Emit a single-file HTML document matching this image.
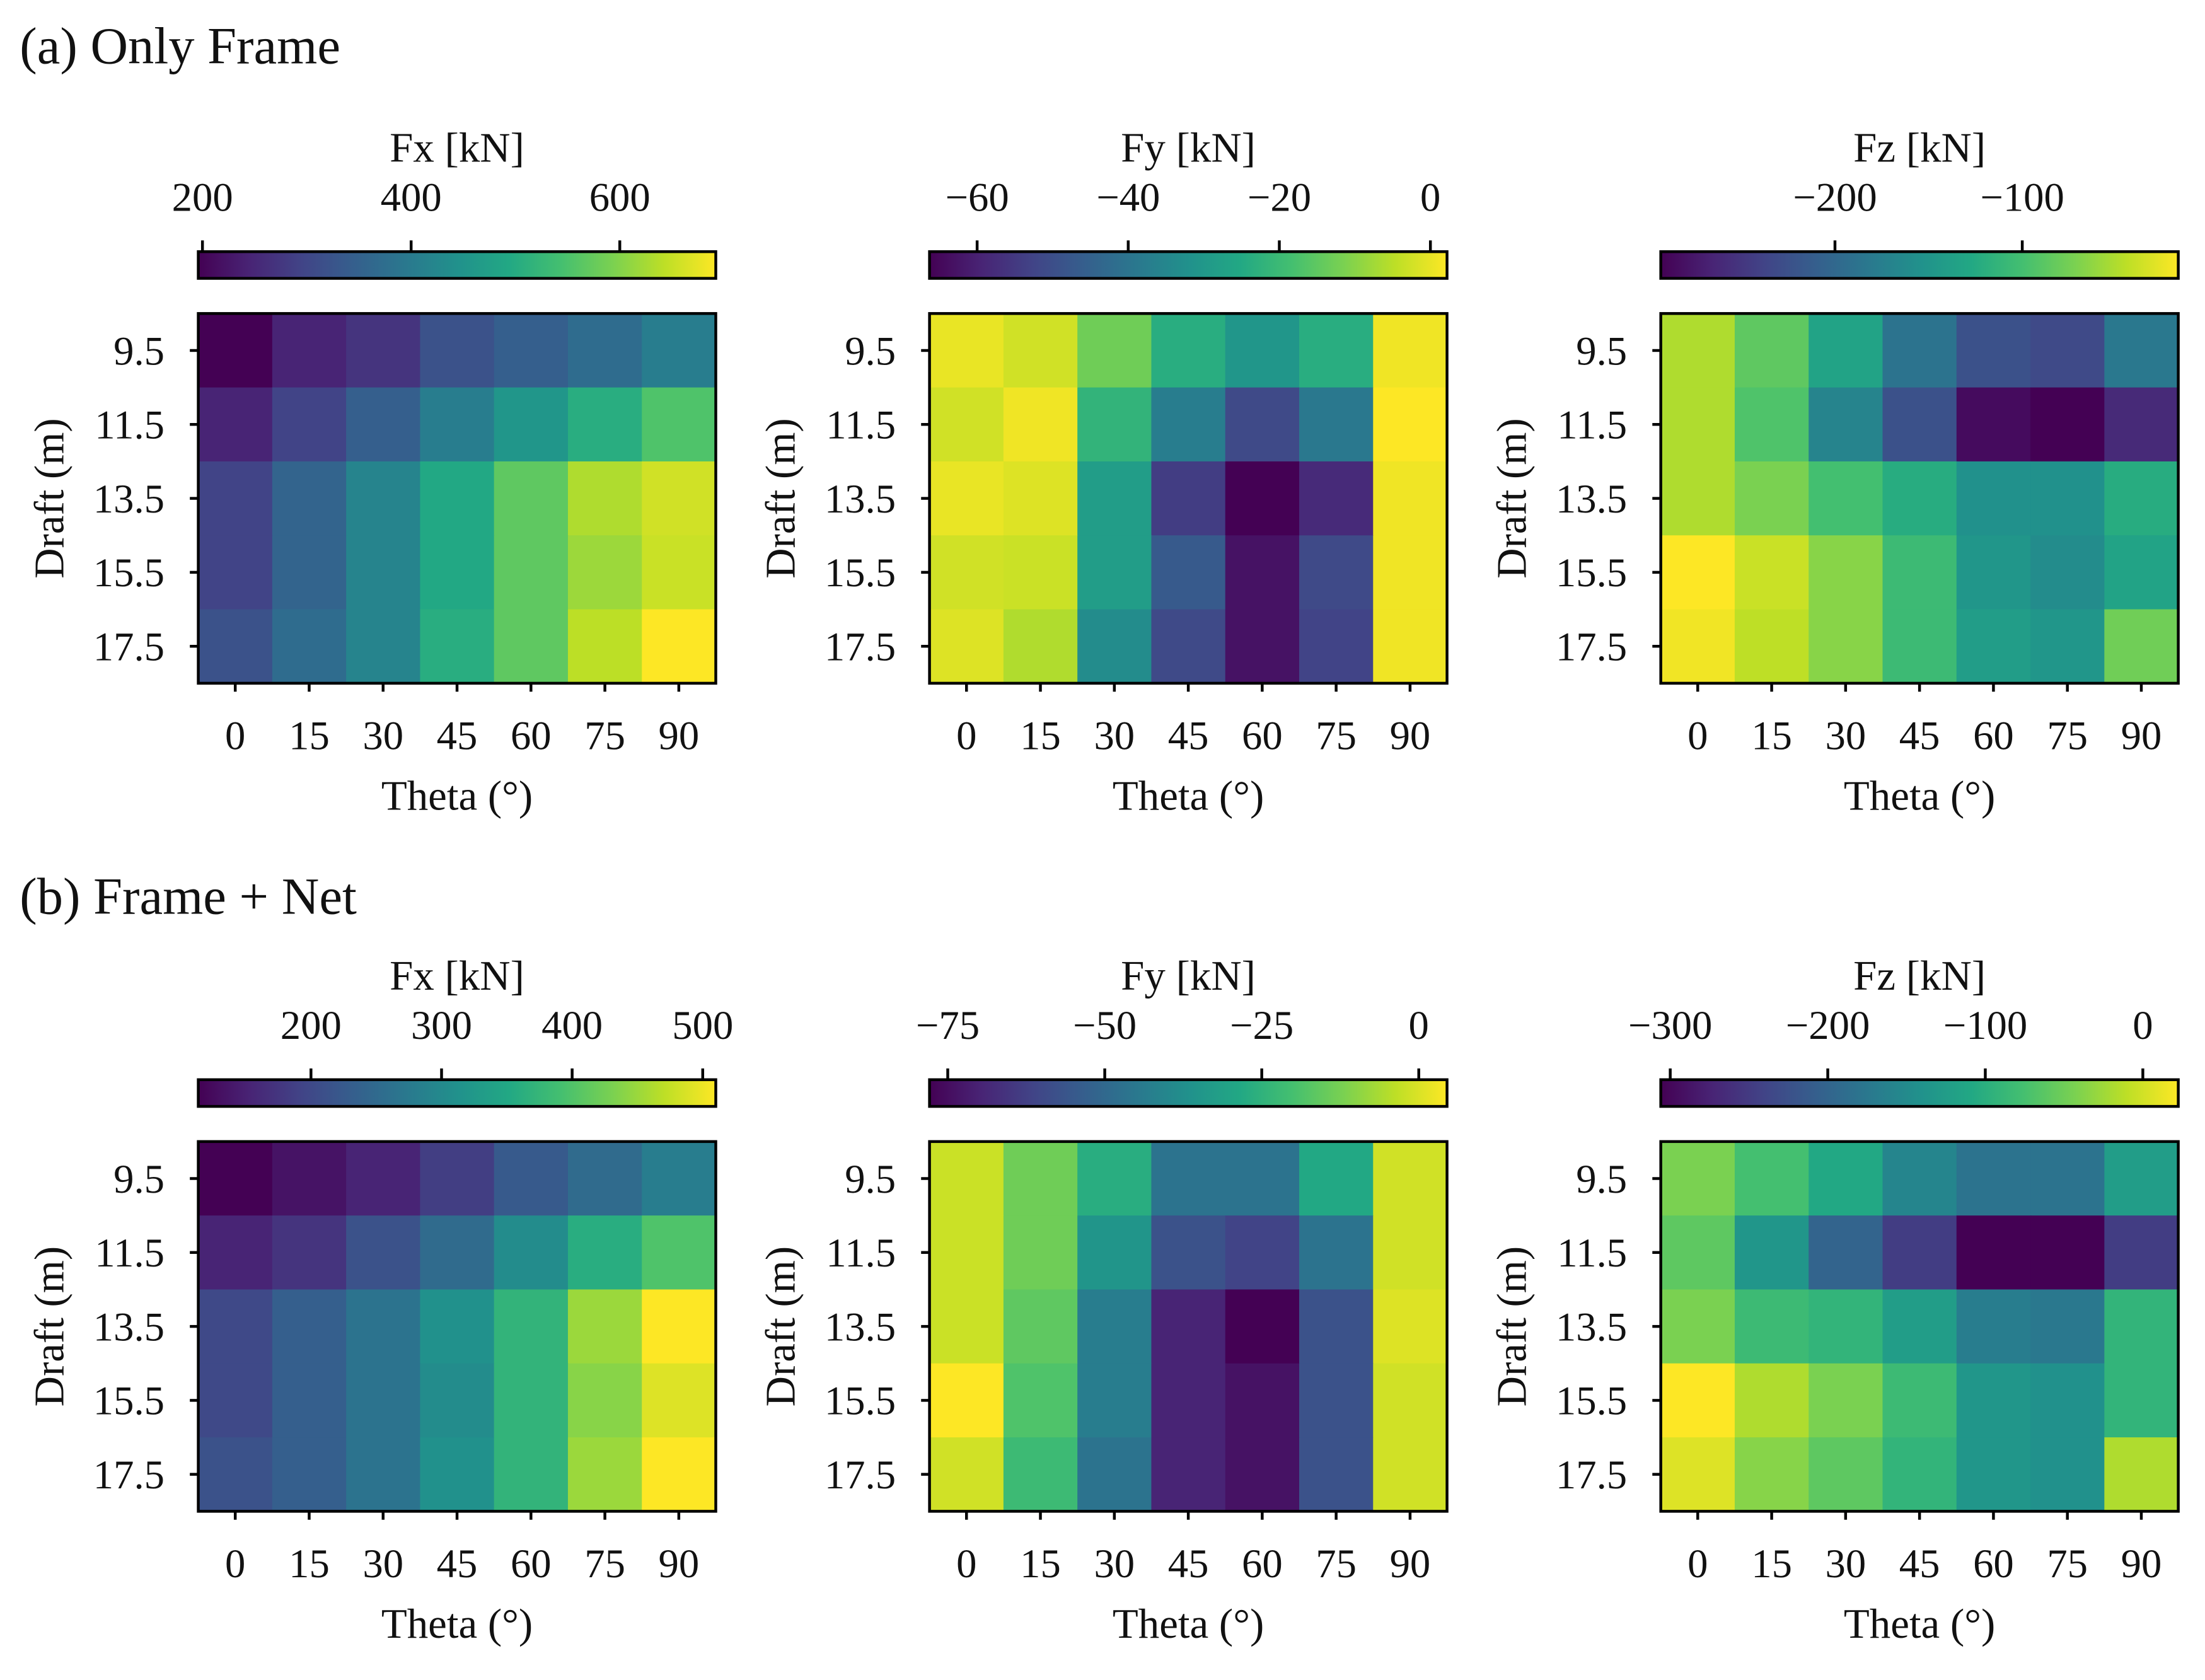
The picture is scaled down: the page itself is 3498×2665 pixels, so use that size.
<!DOCTYPE html>
<html><head><meta charset="utf-8"><style>
html,body{margin:0;padding:0;background:#fff;}
svg{display:block;}
text{font-family:"Liberation Serif",serif;fill:#111;}
</style></head><body>
<svg id="fig" xmlns="http://www.w3.org/2000/svg" width="3498" height="2665" viewBox="0 0 1568 1195" preserveAspectRatio="none">
<rect width="1568" height="1195" fill="#fff"/>
<text x="14" y="45" font-size="37">(a) Only Frame</text>
<text x="14" y="650" font-size="37">(b) Frame + Net</text>
</svg>
<script>
const thetaLabels=["0","15","30","45","60","75","90"];
const draftLabels=["9.5","11.5","13.5","15.5","17.5"];
const fxA=[[196,246,270,320,345,370,404],[246,295,345,404,454,504,553],[295,355,419,494,568,632,657],[295,355,419,494,568,618,652],[320,370,419,504,568,642,692]];
const fyA=[[0.1,-2.6,-12.9,-23.8,-30.7,-23.8,0.8],[-2.6,0.8,-21.8,-37.5,-51.2,-38.9,2.2],[0.1,-1.2,-28.6,-54.0,-66.3,-58.1,0.8],[-2.6,-3.3,-28.6,-47.1,-62.9,-51.2,0.8],[-1.2,-6.0,-33.4,-51.2,-62.9,-52.6,0.8]];
const fzA=[[-50,-86,-133,-188,-224,-232,-182],[-50,-94,-169,-224,-285,-293,-260],[-50,-72,-100,-122,-155,-155,-122],[-16.7,-39,-66,-105,-149,-160,-133],[-22,-44,-66,-105,-141,-149,-77]];
const fxB=[[114,134,153,185,225,252,280],[153,173,213,252,304,360,399],[201,233,264,312,371,450,510],[201,233,264,304,371,439,490],[213,233,264,312,371,450,510]];
const fyB=[[-2.1,-13.6,-26.8,-46.6,-46.6,-28.5,-1.3],[-2.1,-13.6,-35.1,-57.3,-61.4,-46.6,-1.3],[-2.1,-16.1,-43.3,-69.7,-77.9,-57.3,0.4],[4.5,-18.6,-43.3,-69.7,-73.8,-57.3,-1.3],[-1.3,-21.9,-46.6,-69.7,-73.8,-57.3,-1.3]];
const fzB=[[-43,-76,-109,-158,-181,-181,-125],[-60,-135,-201,-247,-306,-306,-247],[-43,-83,-92,-125,-168,-175,-92],[22.5,-17,-43,-83,-135,-142,-92],[6,-37,-60,-92,-135,-142,-17]];
const ticksFxA=[200,400,600], ticksFyA=[-60,-40,-20,0], ticksFzA=[-200,-100];
const ticksFxB=[200,300,400,500], ticksFyB=[-75,-50,-25,0], ticksFzB=[-300,-200,-100,0];
const tickTxtFyA=["\u221260","\u221240","\u221220","0"], tickTxtFzA=["\u2212200","\u2212100"];
const tickTxtFyB=["\u221275","\u221250","\u221225","0"], tickTxtFzB=["\u2212300","\u2212200","\u2212100","0"];

const VIR=[[68,1,84],[72,36,117],[65,68,135],[53,95,141],[42,120,142],[33,145,140],[34,168,132],[68,191,112],[122,209,81],[189,223,38],[253,231,37]];
function viridis(t){t=Math.max(0,Math.min(1,t));const s=t*10,i=Math.min(9,Math.floor(s)),f=s-i;
 const c=VIR[i].map((v,k)=>Math.round(v+(VIR[i+1][k]-v)*f));return `rgb(${c[0]},${c[1]},${c[2]})`;}
const NS="http://www.w3.org/2000/svg";
const svg=document.getElementById('fig');
function mk(tag,attrs,parent){const e=document.createElementNS(NS,tag);for(const k in attrs)e.setAttribute(k,attrs[k]);(parent||svg).appendChild(e);return e;}
let gradId=0;
function panel(x0,y0,data,vmin,vmax,ticks,tickTxt,label,name){
 const W=368,H=263,cw=W/7,ch=H/5;
 const g=mk('g',{});
 
 
 const xs=v=>x0+(v-vmin)/(vmax-vmin)*W;
 data.forEach((row,r)=>row.forEach((v,c)=>{
  const rc=mk('rect',{x:x0+c*cw,y:y0+r*ch,width:cw+0.5,height:ch+0.5,fill:viridis((v-vmin)/(vmax-vmin))},g);
  
  
 }));
 mk('rect',{x:x0,y:y0,width:W,height:H,fill:'none',stroke:'#000','stroke-width':2},g);
 draftLabels.forEach((l,r)=>{const y=y0+(r+0.5)*ch;
  mk('line',{x1:x0-6,x2:x0,y1:y,y2:y,stroke:'#000','stroke-width':2},g);
  const t=mk('text',{x:x0-24,y:y+10,'font-size':29,'text-anchor':'end'},g);t.textContent=l;
  
  });
 thetaLabels.forEach((l,c)=>{const x=x0+(c+0.5)*cw;
  mk('line',{x1:x,x2:x,y1:y0+H,y2:y0+H+6,stroke:'#000','stroke-width':2},g);
  const t=mk('text',{x:x,y:y0+H+47,'font-size':29,'text-anchor':'middle'},g);t.textContent=l;
  
  });
 const xt=mk('text',{x:x0+W/2,y:y0+H+90,'font-size':30,'text-anchor':'middle'},g);xt.textContent="Theta (\u00b0)";
 
 
 const yt=mk('text',{x:0,y:0,'font-size':30,'text-anchor':'middle',transform:`translate(${x0-96},${y0+H/2}) rotate(-90)`},g);yt.textContent="Draft (m)";
 
 
 const id='g'+(gradId++);const grad=mk('linearGradient',{id:id,x1:0,x2:1,y1:0,y2:0},g);
 for(let i=0;i<=10;i++)mk('stop',{offset:i/10,'stop-color':viridis(i/10)},grad);
 const cb=mk('rect',{x:x0,y:y0-44,width:W,height:19,fill:`url(#${id})`,stroke:'#000','stroke-width':2},g);
 
 
 ticks.forEach((v,i)=>{const x=xs(v);
  mk('line',{x1:x,x2:x,y1:y0-44,y2:y0-52,stroke:'#000','stroke-width':2},g);
  const t=mk('text',{x:x,y:y0-73,'font-size':29,'text-anchor':'middle'},g);t.textContent=tickTxt[i];
  
  });
 const cl=mk('text',{x:x0+W/2,y:y0-108,'font-size':30,'text-anchor':'middle'},g);cl.textContent=label;
 
 
}
panel(141,223,fxA,196,692,ticksFxA,ticksFxA.map(String),"Fx [kN]","panel-a-fx");
panel(661,223,fyA,-66.3,2.2,ticksFyA,tickTxtFyA,"Fy [kN]","panel-a-fy");
panel(1181,223,fzA,-293,-16.7,ticksFzA,tickTxtFzA,"Fz [kN]","panel-a-fz");
panel(141,812,fxB,113.7,510,ticksFxB,ticksFxB.map(String),"Fx [kN]","panel-b-fx");
panel(661,812,fyB,-77.9,4.5,ticksFyB,tickTxtFyB,"Fy [kN]","panel-b-fy");
panel(1181,812,fzB,-306,22.5,ticksFzB,tickTxtFzB,"Fz [kN]","panel-b-fz");
</script>
</body></html>
